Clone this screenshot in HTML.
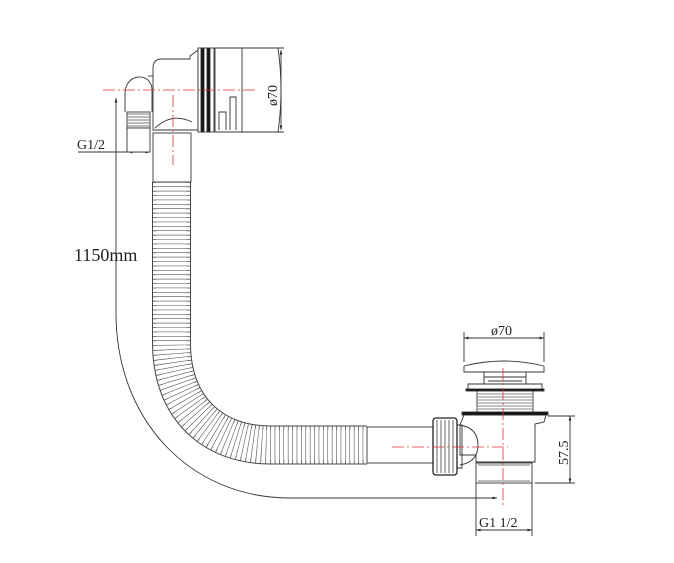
<!DOCTYPE html>
<html><head><meta charset="utf-8"><style>
html,body{margin:0;padding:0;background:#fff;}
svg{display:block}
text{font-family:"Liberation Serif",serif;fill:#222}
</style></head><body>
<svg width="674" height="563" viewBox="0 0 674 563" xmlns="http://www.w3.org/2000/svg">
<defs>
<marker id="a" viewBox="0 0 10 10" refX="10" refY="5" markerWidth="7" markerHeight="5" orient="auto-start-reverse"><path d="M0,2 L10,5 L0,8z" fill="#222"/></marker>
</defs>
<g fill="none" stroke="#333" stroke-width="0.9">
<!-- hose -->
<path d="M171.5,182 L171.5,343 C171.5,410 215,445 270,445 L367,445" stroke="#444" stroke-width="39"/>
<path d="M171.5,182 L171.5,343 C171.5,410 215,445 270,445 L367,445" stroke="#fff" stroke-width="37"/>
<path d="M171.5,182 L171.5,343 C171.5,410 215,445 270,445 L367,445" stroke="#555" stroke-width="37" stroke-dasharray="0.8 3.6"/>
<path d="M171.5,182 L171.5,343 C171.5,410 215,445 270,445 L367,445" stroke="#fff" stroke-width="30" stroke-dasharray="2.2 2.2" stroke-dashoffset="-0.6"/>
<!-- top straight pipe -->
<rect x="153" y="133" width="38" height="49" fill="#fff"/>
<!-- bottom straight pipe -->
<rect x="367" y="427" width="66" height="36" fill="#fff"/>
<!-- 1150 dim -->
<path d="M116,98 L116,313 C116,420 190,498 290,498 L497,498" marker-start="url(#a)" marker-end="url(#a)"/>
<!-- G1/2 top dim -->
<path d="M78,152 L150,152"/>
<path d="M128,152 L150,152" marker-start="url(#a)" marker-end="url(#a)"/>
<!-- elbow small -->
<path d="M125,112 L125,94 C125,72 152,72 152,90 L152,112" fill="#fff"/>
<path d="M148,76 L153,76"/>
<rect x="127" y="112" width="23" height="16" fill="#fff"/>
<path d="M127,114 H150 M127,117 H150 M127,120 H150 M127,123 H150 M127,126 H150" stroke="#777"/>
<rect x="127" y="128" width="23" height="24" fill="#fff"/>
<!-- main body -->
<path d="M153,130 L153,68 Q153,59 162,59 L190,59 L190,56 L198,50 L198,130 Z" fill="#fff"/>
<path d="M155,128 Q172,112 192,122"/>
<rect x="198" y="48" width="16" height="84" fill="#fff"/>
<rect x="201" y="48" width="3" height="84" fill="#111"/>
<rect x="207" y="48" width="3" height="84" fill="#111"/>
<path d="M215,48 L278,48 Q284,90 278,132 L215,132 Z" fill="#fff"/>
<path d="M242,48 L242,132"/>
<path d="M219,130 V112 H226 V130 M230,130 V97 H236 V130"/>
<path d="M240,48 L284,48 M240,132 L284,132"/>
<!-- ø70 top dim -->
<path d="M281,50 L281,130" marker-start="url(#a)" marker-end="url(#a)"/>
<!-- drain -->
<path d="M464,338 L544,338" marker-start="url(#a)" marker-end="url(#a)"/>
<path d="M464,332 V362 M544,332 V362"/>
<path d="M464,372 L464,366 Q504,356 544,366 L544,372 Z" fill="#fff"/>
<rect x="484" y="372" width="42" height="12" fill="#fff"/>
<path d="M484,377 H526 M488,381 H522"/>
<path d="M468,384 L542,384 L542,390 L468,390 Z" fill="#fff"/>
<rect x="466" y="389" width="78" height="2" fill="#111"/>
<rect x="477" y="391" width="56" height="21" fill="#fff"/>
<path d="M477,394 H533 M477,397 H533 M477,400 H533 M477,403 H533 M477,406 H533 M477,409 H533" stroke="#888"/>
<rect x="462" y="412" width="86" height="3" fill="#111"/>
<path d="M464,415 L546,415 L544,422 L535,424 L535,462 L476,462 L476,455 L460,455 L460,425 Z" fill="#fff"/>
<path d="M460,425 Q478,428 478,445 Q478,462 460,465"/>
<rect x="476" y="463" width="56" height="20" fill="#fff"/>
<path d="M478,465 H530 M478,481 H530" stroke="#777"/>
<!-- nut -->
<rect x="433" y="418" width="24" height="57" rx="3" fill="#fff" stroke="#222" stroke-width="1.3"/>
<path d="M437,420 V473 M441,420 V473 M445,420 V473 M449,420 V473 M453,420 V473" stroke="#555"/>
<path d="M457,425 L462,425 L462,468 L457,468"/>
<!-- 57.5 dim -->
<path d="M548,416 L575,416 M535,483 L575,483"/>
<path d="M570,416 L570,483" marker-start="url(#a)" marker-end="url(#a)"/>
<!-- G1 1/2 -->
<path d="M476,483 V536 M532,483 V536"/>
<path d="M476,530 L532,530" marker-start="url(#a)" marker-end="url(#a)"/>
</g>
<!-- centerlines -->
<g stroke="#e03030" stroke-width="0.8" stroke-dasharray="12 3 2 3" fill="none">
<path d="M103,90 L258,90"/>
<path d="M173,95 L173,165"/>
<path d="M392,447 L508,447"/>
<path d="M503,368 L503,508"/>
</g>
<text x="77" y="149" font-size="14">G1/2</text>
<text x="74" y="261" font-size="18">1150mm</text>
<text x="0" y="0" font-size="14" transform="translate(277,106) rotate(-90)">ø70</text>
<text x="491" y="335" font-size="14">ø70</text>
<text x="0" y="0" font-size="14" transform="translate(568,465) rotate(-90)">57.5</text>
<text x="479" y="527" font-size="14">G1 1/2</text>
</svg>
</body></html>
